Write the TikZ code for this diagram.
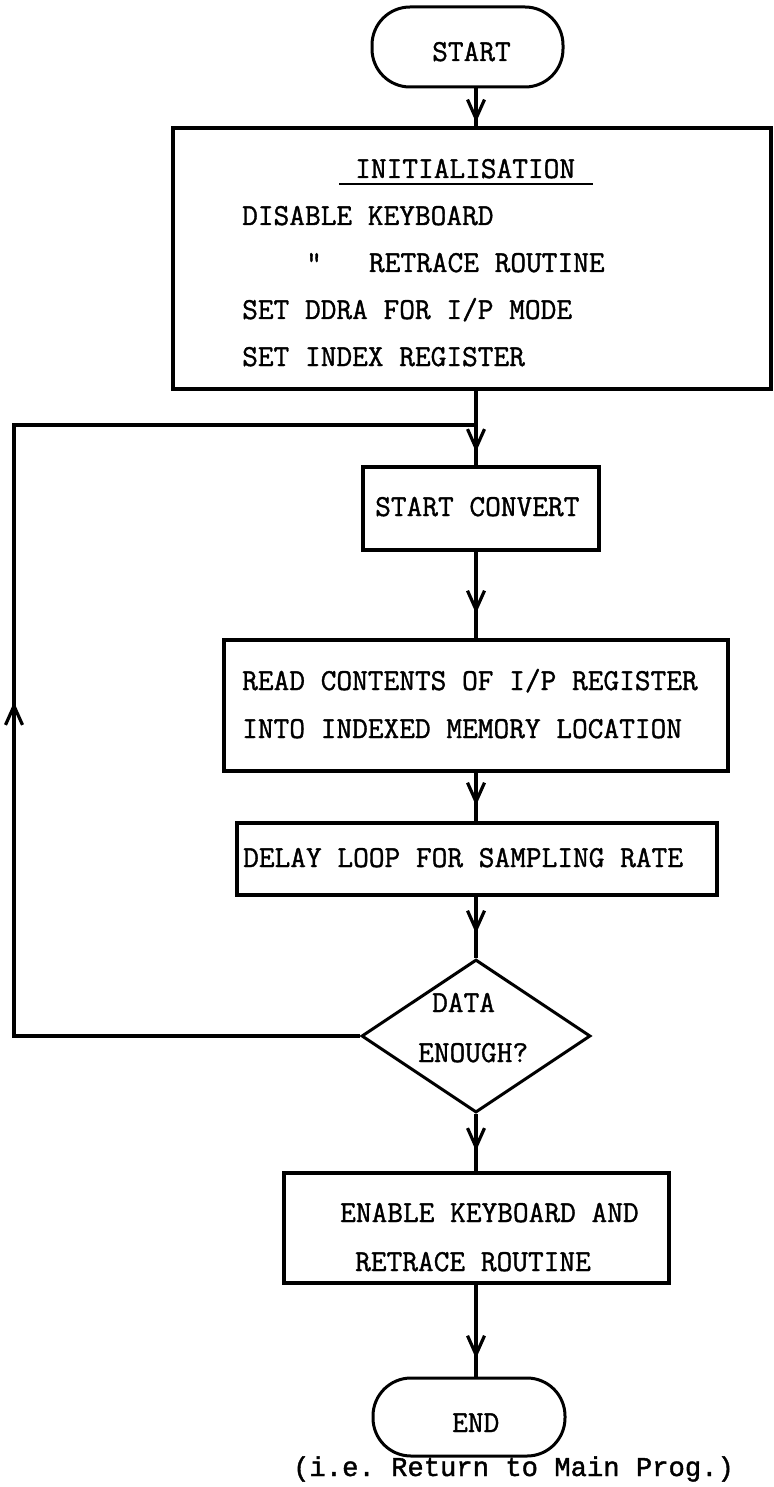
\documentclass[tikz,border=0pt]{standalone}
\usepackage{fontspec}
\setmonofont[FakeBold=1.2]{Latin Modern Mono}
\newfontfamily\capfont[FakeBold=1.4]{Liberation Mono}
\usetikzlibrary{arrows.meta,decorations.markings,shapes.geometric}
\begin{document}
\begin{tikzpicture}[x=1pt,y=-1pt,
  line/.style={line width=3.2pt},
  box/.style={draw, line width=3.2pt, rectangle, inner sep=0pt},
  term/.style={draw, line width=3pt, rectangle, rounded corners=38pt, inner sep=0pt},
  decis/.style={draw, line width=3pt, diamond, inner sep=0pt, shape aspect=1.5},
  txt/.style={font=\ttfamily\fontsize{30.5}{36}\selectfont\frenchspacing, inner sep=0pt, anchor=base west},
  captxt/.style={font=\capfont\fontsize{27.2}{32}\selectfont\frenchspacing, inner sep=0pt, anchor=base west},
  flow/.style={line, postaction={decorate},
    decoration={markings, mark=at position #1 with {\arrow{Straight Barb[length=19pt,width=17pt]}}}},
]
\fill[white] (0,0) rectangle (773,1487);
\useasboundingbox (0,0) rectangle (773,1487);

% shapes
\node[term, minimum width=191pt, minimum height=80pt] (start) at (467.5,47) {};
\node[box, minimum width=598pt, minimum height=261pt] (init) at (472,258.5) {};
\node[box, minimum width=236pt, minimum height=83pt] (sc) at (481,508.5) {};
\node[box, minimum width=504pt, minimum height=131pt] (read) at (476,705.5) {};
\node[box, minimum width=480pt, minimum height=72pt] (delay) at (477,859) {};
\node[decis, minimum width=229pt, minimum height=153pt] (dec) at (476,1036) {};
\node[box, minimum width=385pt, minimum height=110pt] (enable) at (476.5,1228) {};
\node[term, minimum width=192pt, minimum height=78pt] (end) at (469,1417) {};

% texts
\node[txt] (tStart) at (432,61) {START};
\node[txt] (tTitle) at (355,178) {INITIALISATION};
\draw[line width=2.2pt] ([xshift=-16pt,yshift=-6pt]tTitle.base west) -- ([xshift=18pt,yshift=-6pt]tTitle.base east);
\node[txt] (tI1) at (242,225) {DISABLE KEYBOARD};
\node[txt] (tI2) at (306,272) {"~~~RETRACE ROUTINE};
\node[txt] (tI3) at (242,319) {SET DDRA FOR I/P MODE};
\node[txt] (tI4) at (242,366) {SET INDEX REGISTER};
\node[txt] (tSC) at (375,516) {START CONVERT};
\node[txt] (tR1) at (242,690) {READ CONTENTS OF I/P REGISTER};
\node[txt] (tR2) at (242,738) {INTO INDEXED MEMORY LOCATION};
\node[txt] (tD) at (243,867) {DELAY LOOP FOR SAMPLING RATE};
\node[txt] (tDa) at (432,1012) {DATA};
\node[txt] (tEn) at (418,1062) {ENOUGH?};
\node[txt] (tE1) at (340,1222) {ENABLE KEYBOARD AND};
\node[txt] (tE2) at (355,1271) {RETRACE ROUTINE};
\node[txt] (tEnd) at (452,1432) {END};
\node[captxt] (tCap) at (293,1476) {(i.e. Return to Main Prog.)};

% connectors
\coordinate (spine) at (476,0);
\coordinate (jn) at (476,425);
\coordinate (lt) at (14,425);
\coordinate (lb) at (14,1036);
\draw[flow=34pt] (start.south -| spine) -- (init.north -| spine);
\draw[line] (init.south -| spine) -- (jn);
\draw[flow=27pt] (jn) -- (sc.north -| spine);
\draw[flow=680pt] (dec.west) -- (lb) -- (lt) -- (jn);
\draw[flow=62pt] (sc.south -| spine) -- (read.north -| spine);
\draw[flow=33pt] (read.south -| spine) -- (delay.north -| spine);
\draw[flow=37pt] (delay.south -| spine) -- (dec.north);
\draw[flow=37pt] (dec.south) -- (enable.north -| spine);
\draw[flow=74pt] (enable.south -| spine) -- (end.north -| spine);
\end{tikzpicture}
\end{document}
